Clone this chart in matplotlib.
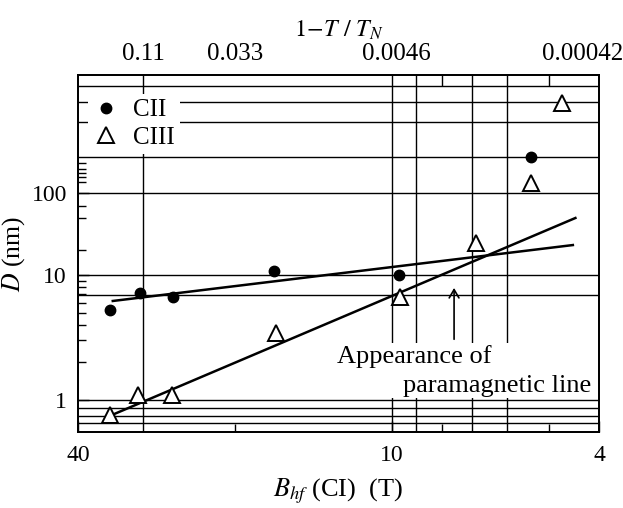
import numpy as np
import matplotlib
matplotlib.use('Agg')
import matplotlib.pyplot as plt
from matplotlib.patches import Rectangle
from matplotlib.ticker import NullFormatter

plt.rcParams['font.family'] = ['Liberation Serif', 'DejaVu Serif']
plt.rcParams['mathtext.fontset'] = 'stix'

# data
cii_b = [34.7, 30.4, 26.3, 16.8, 9.68, 5.40]
cii_d = [5.25, 7.18, 6.67, 11.2, 10.0, 275]
ciii_b = [34.7, 30.7, 26.4, 16.7, 9.65, 6.89, 5.40, 4.71]
ciii_d = [0.76, 1.10, 1.10, 3.44, 6.67, 24.6, 132, 1250]

cii_fit_b = [34.3, 4.49]
cii_fit_d = [6.2, 23.2]
ciii_fit_b = [35.2, 4.44]
ciii_fit_d = [0.73, 49.6]

arrow_b = 7.59
arrow_d = [2.91, 8.3]

x_major = [40, 10, 4]
x_minor = [20, 8, 5]
x_lines = [30, 10, 9, 7, 6]
top_pos = [30, 20, 9.8, 4.3]
top_labels = ['0.11', '0.033', '0.0046', '0.00042']

y_major = [1, 10, 100]
y_minor = [2, 3, 4, 5, 6, 7, 8, 9, 20, 50, 70, 135, 155, 175, 195, 230]
y_lines = [2000, 1300, 730, 275, 100, 10, 6.9, 1, 0.86, 0.75, 0.66]

# the printed y axis is squeezed above 10
K = 0.656


def fwd(y):
    ly = np.log10(np.clip(np.asarray(y, float), 1e-12, None))
    return np.where(ly <= 1, ly, 1 + K * (ly - 1))


def inv(t):
    t = np.asarray(t, float)
    return np.where(t <= 1, 10.0 ** t, 10.0 ** (1 + (t - 1) / K))


fig = plt.figure(figsize=(6.23, 5.08), dpi=100)
ax = fig.add_axes([0.1252, 0.1496, 0.8363, 0.7028])
ax.set_xscale('log')
ax.set_yscale('function', functions=(fwd, inv))
ax.set_xlim(40, 4)
ax.set_ylim(0.555, 2750)

for v in y_lines:
    ax.axhline(v, color='black', lw=1.0, zorder=1)
for v in x_lines:
    ax.axvline(v, color='black', lw=1.0, zorder=1)

ax.plot(cii_fit_b, cii_fit_d, color='black', lw=1.8, zorder=2)
ax.plot(ciii_fit_b, ciii_fit_d, color='black', lw=1.8, zorder=2)

ax.plot(cii_b, cii_d, 'o', color='black', ms=7.5, zorder=4, label='CII')
ax.plot(ciii_b, ciii_d, '^', mfc='white', mec='black', mew=1.4, ms=11,
        zorder=4, label='CIII')

ax.add_patch(Rectangle((0.489, 0.095), 0.503, 0.154, transform=ax.transAxes,
                       facecolor='white', edgecolor='none', zorder=3))
ax.annotate('', xy=(arrow_b, arrow_d[1]), xytext=(arrow_b, arrow_d[0]),
            arrowprops=dict(arrowstyle='->,head_length=0.6,head_width=0.35',
                            lw=1.2, color='black'), zorder=5)
ax.text(0.497, 0.212, 'Appearance of', transform=ax.transAxes,
        ha='left', va='center', fontsize=19, zorder=5)
ax.text(0.624, 0.128, 'paramagnetic line', transform=ax.transAxes,
        ha='left', va='center', fontsize=19, zorder=5)

leg = ax.legend(loc='upper left', bbox_to_anchor=(0.02, 0.947), fontsize=18,
                frameon=True, framealpha=1, edgecolor='none', fancybox=False,
                handlelength=1.0, handletextpad=0.6, labelspacing=0.2,
                borderpad=0.2, borderaxespad=0)
leg.set_zorder(6)

ax.set_xticks(x_major)
ax.set_xticklabels([str(v) for v in x_major])
ax.set_xticks(x_minor, minor=True)
ax.xaxis.set_minor_formatter(NullFormatter())
ax.set_yticks(y_major)
ax.set_yticklabels([str(v) for v in y_major])
ax.set_yticks(y_minor, minor=True)
ax.yaxis.set_minor_formatter(NullFormatter())
ax.tick_params(which='both', direction='in', labelsize=17, top=False, right=False)
ax.tick_params(which='major', length=8, width=1.0)
ax.tick_params(which='minor', length=6, width=1.0)
ax.tick_params(axis='x', pad=9)
ax.tick_params(axis='y', pad=8)

ax2 = ax.twiny()
ax2.set_xscale('log')
ax2.set_xlim(40, 4)
ax2.set_xticks(top_pos)
ax2.set_xticklabels(top_labels)
ax2.set_xticks(x_minor, minor=True)
ax2.xaxis.set_minor_formatter(NullFormatter())
ax2.tick_params(which='major', length=0, labelsize=18, pad=7)
ax2.tick_params(which='minor', direction='in', length=8, width=1.0)
ax2.set_xlabel(r'$1\!-\!T\ /\ T_N$', fontsize=17.5, labelpad=5)

ax.set_xlabel(r'$B_{hf}$ (CI)  (T)', fontsize=19, labelpad=8)
ax.set_ylabel(r'$D$ (nm)', fontsize=18.5, labelpad=3)

for a in (ax, ax2):
    for s in a.spines.values():
        s.set_linewidth(1.3)

fig.savefig('out.png', dpi=100)
